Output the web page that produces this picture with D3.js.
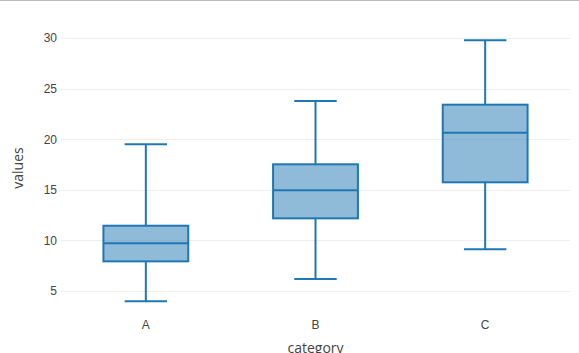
<!DOCTYPE html>
<html>
<head>
<meta charset="utf-8">
<script src="https://cdn.jsdelivr.net/npm/d3@7"></script>
<style>
  body { margin: 0; background: #fff; }
  svg { display: block; font-family: "Open Sans", sans-serif; }
</style>
</head>
<body>
<div id="chart"></div>
<script>
  // box stats
  const categories = ['A', 'B', 'C'];
  const lowerWhisker = [3.98, 6.19, 9.12];
  const q1 = [7.93, 12.18, 15.74];
  const median = [9.71, 14.95, 20.64];
  const q3 = [11.45, 17.52, 23.41];
  const upperWhisker = [19.5, 23.77, 29.77];
  const yTicks = [5, 10, 15, 20, 25, 30];

  const width = 579;
  const height = 353;
  const left = 61, right = 570;

  const boxes = categories.map((c, i) => ({
    cat: c,
    lo: lowerWhisker[i], q1: q1[i], med: median[i], q3: q3[i], hi: upperWhisker[i]
  }));

  const svg = d3.select('#chart').append('svg')
    .attr('width', width)
    .attr('height', height);

  // thin line along the top edge
  svg.append('line')
    .attr('x1', 0).attr('x2', width)
    .attr('y1', 0.5).attr('y2', 0.5)
    .attr('stroke', '#bbb')
    .attr('stroke-width', 1);

  const xScale = d3.scaleBand()
    .domain(categories)
    .range([left, right]);
  const yScale = d3.scaleLinear()
    .domain([5, 30])
    .range([291, 38]);

  // grid
  svg.append('g')
    .selectAll('line')
    .data(yTicks)
    .join('line')
    .attr('x1', left).attr('x2', right)
    .attr('y1', d => Math.round(yScale(d)) + 0.5)
    .attr('y2', d => Math.round(yScale(d)) + 0.5)
    .attr('stroke', '#eee')
    .attr('stroke-width', 1);

  const yAxis = d3.axisLeft(yScale)
    .tickValues(yTicks)
    .tickSize(0)
    .tickPadding(3);
  const yg = svg.append('g')
    .attr('transform', `translate(${left - 1}, 0)`)
    .call(yAxis);
  yg.select('.domain').remove();
  yg.selectAll('text')
    .style('font-size', '12px')
    .attr('fill', '#444');

  const xAxis = d3.axisBottom(xScale).tickSize(0).tickPadding(0);
  const xg = svg.append('g')
    .attr('transform', 'translate(0, 320)')
    .call(xAxis);
  xg.select('.domain').remove();
  xg.selectAll('text')
    .style('font-size', '12px')
    .attr('fill', '#444');

  svg.append('text')
    .attr('transform', 'translate(23, 168) rotate(-90)')
    .attr('text-anchor', 'middle')
    .style('font-size', '14px')
    .attr('fill', '#444')
    .text('values');
  svg.append('text')
    .attr('x', (left + right) / 2)
    .attr('y', 353)
    .attr('text-anchor', 'middle')
    .style('font-size', '14px')
    .attr('fill', '#444')
    .text('category');

  const bw = xScale.bandwidth();
  const boxW = bw * 0.5;
  const capW = boxW * 0.5;
  const color = '#1f77b4';

  const g = svg.append('g')
    .selectAll('g')
    .data(boxes)
    .join('g')
    .attr('transform', d => `translate(${xScale(d.cat) + bw / 2}, 0)`);

  // whiskers
  g.append('line')
    .attr('x1', 0).attr('x2', 0)
    .attr('y1', d => yScale(d.hi)).attr('y2', d => yScale(d.q3))
    .attr('stroke', color).attr('stroke-width', 2);
  g.append('line')
    .attr('x1', 0).attr('x2', 0)
    .attr('y1', d => yScale(d.q1)).attr('y2', d => yScale(d.lo))
    .attr('stroke', color).attr('stroke-width', 2);
  g.append('line')
    .attr('x1', -capW / 2).attr('x2', capW / 2)
    .attr('y1', d => yScale(d.hi)).attr('y2', d => yScale(d.hi))
    .attr('stroke', color).attr('stroke-width', 2);
  g.append('line')
    .attr('x1', -capW / 2).attr('x2', capW / 2)
    .attr('y1', d => yScale(d.lo)).attr('y2', d => yScale(d.lo))
    .attr('stroke', color).attr('stroke-width', 2);

  // box
  g.append('rect')
    .attr('x', -boxW / 2)
    .attr('width', boxW)
    .attr('y', d => yScale(d.q3))
    .attr('height', d => yScale(d.q1) - yScale(d.q3))
    .attr('fill', 'rgba(31,119,180,0.5)')
    .attr('stroke', color)
    .attr('stroke-width', 2);
  g.append('line')
    .attr('x1', -boxW / 2).attr('x2', boxW / 2)
    .attr('y1', d => yScale(d.med)).attr('y2', d => yScale(d.med))
    .attr('stroke', color).attr('stroke-width', 2);
</script>
</body>
</html>
